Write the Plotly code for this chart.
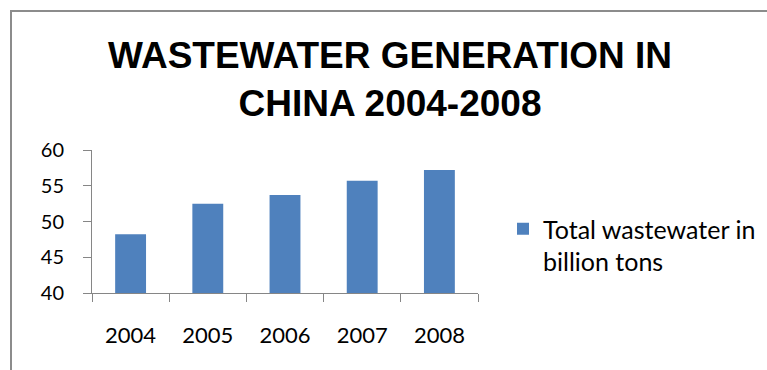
import plotly.graph_objects as go

years = ["2004", "2005", "2006", "2007", "2008"]
wastewater = [48.2, 52.5, 53.7, 55.7, 57.2]
series_name = "Total wastewater in<br>billion tons"
title_text = "WASTEWATER GENERATION IN<br>CHINA 2004-2008"
y_ticks = [40, 45, 50, 55, 60]

W, H = 767, 370
L, R = 92, 478
T, B = 150, 293
pw, ph = R - L, B - T

def px_x(p):
    return (p - L) / pw

def px_y(p):
    return (B - p) / ph

fig = go.Figure()
fig.add_trace(go.Bar(
    x=years, y=wastewater, name=series_name,
    marker=dict(color="#4F81BD", line=dict(width=0)),
    showlegend=True,
))

axis_col = "#868686"
fig.update_layout(
    width=W, height=H,
    margin=dict(l=L, r=W - R, t=T, b=H - B, pad=0),
    paper_bgcolor="white", plot_bgcolor="white",
    bargap=0.6,
    font=dict(family="Lato", size=20, color="black"),
    title=dict(text=title_text, x=390 / W, xanchor="center", xref="container",
               y=1 - 68 / H, yanchor="middle", yref="container",
               font=dict(family="Liberation Sans", size=37, color="black", weight="bold")),
    showlegend=True,
    legend=dict(x=503 / W, xanchor="left", xref="container",
                y=1 - 206 / H, yanchor="top", yref="container",
                valign="top", font=dict(family="Lato", size=25, color="black"),
                bgcolor="rgba(0,0,0,0)", borderwidth=0),
    xaxis=dict(showline=True, linecolor=axis_col, linewidth=1, ticks="outside",
               tickson="boundaries", ticklen=8, tickcolor=axis_col, showgrid=False,
               ticklabelstandoff=23, tickfont=dict(family="Lato", size=22)),
    yaxis=dict(range=[40, 60], tickvals=y_ticks, showline=True, linecolor=axis_col,
               linewidth=1, ticks="outside", ticklen=8, tickcolor=axis_col,
               showgrid=False, zeroline=False, ticklabelstandoff=15,
               tickfont=dict(family="Lato", size=20)),
    shapes=[dict(type="rect", xref="paper", yref="paper",
                 x0=px_x(11), x1=px_x(W + 20), y0=px_y(H + 20), y1=px_y(11),
                 line=dict(color="#8C8C8C", width=2), fillcolor="rgba(0,0,0,0)",
                 layer="below")],
)

fig.write_html("out.html")
